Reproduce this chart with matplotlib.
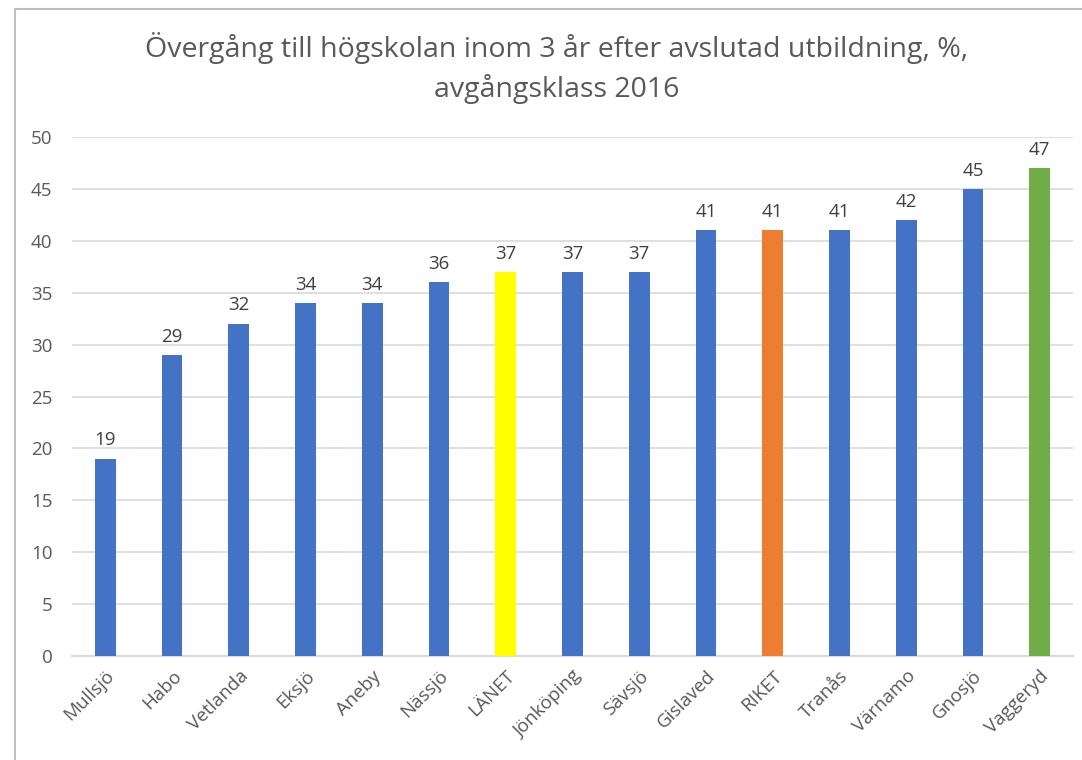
import matplotlib
matplotlib.use("Agg")
import matplotlib.pyplot as plt
from matplotlib.patches import Rectangle

categories = ["Mullsjö", "Habo", "Vetlanda", "Eksjö", "Aneby", "Nässjö", "LÄNET",
              "Jönköping", "Sävsjö", "Gislaved", "RIKET", "Tranås", "Värnamo",
              "Gnosjö", "Vaggeryd"]
values = [19, 29, 32, 34, 34, 36, 37, 37, 37, 41, 41, 41, 42, 45, 47]
colors = ["#4472C4"] * 6 + ["#FFFF00"] + ["#4472C4"] * 3 + ["#ED7D31"] + ["#4472C4"] * 3 + ["#70AD47"]
yticks = list(range(0, 51, 5))
title = "Övergång till högskolan inom 3 år efter avslutad utbildning, %,\navgångsklass 2016"

plt.rcParams['font.family'] = ['Open Sans', 'DejaVu Sans']
fig = plt.figure(figsize=(10.82, 7.6), dpi=100)
W, H = 1082, 760
ax = fig.add_axes([72 / W, 1 - 656 / H, (1073 - 72) / W, (656 - 137) / H])

x = range(len(categories))
ax.bar(x, values, width=0.31, color=colors, zorder=3)
for xi, v in zip(x, values):
    ax.text(xi, v + 0.9, str(v), ha="center", va="bottom", fontsize=13.5, color="#404040")

ax.set_xlim(-0.5, len(categories) - 0.5)
ax.set_ylim(0, 50)
ax.set_yticks(yticks)
ax.set_yticklabels([str(t) for t in yticks], fontsize=13.5, color="#595959")
ax.set_xticks(list(x))
ax.set_xticklabels(categories, rotation=45, ha="right", rotation_mode="anchor",
                   fontsize=13.5, color="#595959")
ax.tick_params(axis="both", length=0)
ax.tick_params(axis="y", pad=14)
ax.tick_params(axis="x", pad=8)
ax.grid(axis="y", color="#D9D9D9", linewidth=1.2, zorder=0)
for s in ["top", "right", "left"]:
    ax.spines[s].set_visible(False)
ax.spines["bottom"].set_color("#D9D9D9")
ax.spines["bottom"].set_linewidth(1.5)

fig.text(0.5 + 16 / W, 1 - 68 / H, title, ha="center", va="center", fontsize=20.5,
         color="#595959", linespacing=1.4)

fig.patches.append(Rectangle((15 / W, -0.1), 1.2, 1 - 9 / H + 0.1, transform=fig.transFigure,
                             fill=False, edgecolor="#BFBFBF", linewidth=1.5))

fig.savefig("out.png", dpi=100)
